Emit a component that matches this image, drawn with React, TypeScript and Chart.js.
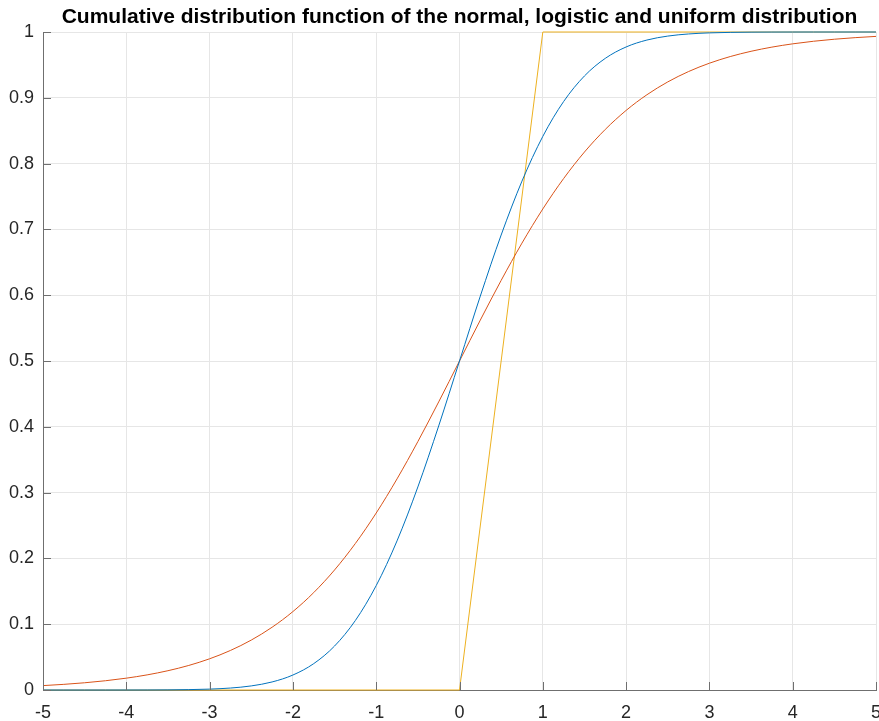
import React, { useEffect, useRef } from "react";
import { Chart, registerables } from "chart.js";

Chart.register(...registerables);

const TITLE = "Cumulative distribution function of the normal, logistic and uniform distribution";

const xValues = [
  -5, -4.75, -4.5, -4.25, -4, -3.75, -3.5, -3.25, -3, -2.75, -2.5, -2.25, -2, -1.75, -1.5, -1.25, -1, -0.75, -0.5, -0.25,
  0, 0.25, 0.5, 0.75, 1, 1.25, 1.5, 1.75, 2, 2.25, 2.5, 2.75, 3, 3.25, 3.5, 3.75, 4, 4.25, 4.5, 4.75, 5,
];

const normalCdf = [
  0.0000003, 0.000001, 0.0000034, 0.0000107, 0.0000317, 0.0000884, 0.000233, 0.000577, 0.00135, 0.00298, 0.00621,
  0.01222, 0.02275, 0.04006, 0.06681, 0.10565, 0.15866, 0.22663, 0.30854, 0.40129, 0.5, 0.59871, 0.69146, 0.77337,
  0.84134, 0.89435, 0.93319, 0.95994, 0.97725, 0.98778, 0.99379, 0.99702, 0.99865, 0.999423, 0.999767, 0.999912,
  0.999968, 0.999989, 0.999997, 0.999999, 1.0,
];

const logisticCdf = [
  0.00669, 0.00858, 0.01099, 0.01406, 0.01799, 0.02298, 0.02931, 0.03732, 0.04743, 0.06008, 0.07586, 0.09535, 0.1192,
  0.14805, 0.18243, 0.2227, 0.26894, 0.32082, 0.37754, 0.43782, 0.5, 0.56218, 0.62246, 0.67918, 0.73106, 0.7773,
  0.81757, 0.85195, 0.8808, 0.90465, 0.92414, 0.93992, 0.95257, 0.96268, 0.97069, 0.97702, 0.98201, 0.98594, 0.98901,
  0.99142, 0.99331,
];

const uniformX = [-5, 0, 1, 5];
const uniformCdf = [0, 0, 1, 1];

const xTicks = [-5, -4, -3, -2, -1, 0, 1, 2, 3, 4, 5];
const yTicks = [0, 0.1, 0.2, 0.3, 0.4, 0.5, 0.6, 0.7, 0.8, 0.9, 1];

const AXIS_COLOR = "#6f6f6f";
const TEXT_COLOR = "#262626";
const FONT = "'Liberation Sans', Arial, Helvetica, sans-serif";

const titlePlugin = {
  id: "octaveTitle",
  afterDraw(chart: any) {
    const { ctx, chartArea } = chart;
    ctx.save();
    ctx.font = `bold 21px ${FONT}`;
    ctx.fillStyle = "#000";
    ctx.textAlign = "center";
    ctx.textBaseline = "alphabetic";
    ctx.fillText(TITLE, (chartArea.left + chartArea.right) / 2, 23);
    ctx.restore();
  },
};

const tickPlugin = {
  id: "inwardTicks",
  afterDatasetsDraw(chart: any) {
    const { ctx, chartArea, scales } = chart;
    const len = 8;
    ctx.save();
    ctx.strokeStyle = AXIS_COLOR;
    ctx.lineWidth = 1;
    ctx.beginPath();
    xTicks.forEach((v) => {
      const px = Math.round(scales.x.getPixelForValue(v)) + 0.5;
      ctx.moveTo(px, chartArea.bottom);
      ctx.lineTo(px, chartArea.bottom - len);
    });
    yTicks.forEach((v) => {
      const py = Math.round(scales.y.getPixelForValue(v)) + 0.5;
      ctx.moveTo(chartArea.left, py);
      ctx.lineTo(chartArea.left + len, py);
    });
    ctx.stroke();
    ctx.restore();
  },
};

export default function App() {
  const ref = useRef<HTMLCanvasElement | null>(null);

  useEffect(() => {
    if (!ref.current) return;
    const toPts = (xs: number[], ys: number[]) => xs.map((x, i) => ({ x, y: ys[i] }));
    const chart = new Chart(ref.current, {
      type: "scatter",
      data: {
        datasets: [
          {
            label: "normal",
            data: toPts(xValues, normalCdf),
            showLine: true,
            borderColor: "#0072BD",
            borderWidth: 1,
            pointRadius: 0,
            cubicInterpolationMode: "monotone",
            clip: false,
          },
          {
            label: "logistic",
            data: toPts(xValues, logisticCdf),
            showLine: true,
            borderColor: "#D95319",
            borderWidth: 1,
            pointRadius: 0,
            cubicInterpolationMode: "monotone",
            clip: false,
          },
          {
            label: "uniform",
            data: toPts(uniformX, uniformCdf),
            showLine: true,
            borderColor: "#EDB120",
            borderWidth: 1,
            pointRadius: 0,
            tension: 0,
            clip: false,
          },
        ],
      },
      plugins: [tickPlugin, titlePlugin],
      options: {
        animation: false,
        responsive: false,
        maintainAspectRatio: false,
        layout: { padding: { top: 32, right: 3, left: 0, bottom: 0 } },
        plugins: {
          legend: { display: false },
          title: { display: false },
          tooltip: { enabled: false },
        },
        scales: {
          x: {
            type: "linear",
            min: -5,
            max: 5,
            afterBuildTicks: (scale: any) => {
              scale.ticks = xTicks.map((v) => ({ value: v }));
            },
            afterFit: (scale: any) => {
              scale.height = 31;
              scale.paddingLeft = 0;
              scale.paddingRight = 0;
            },
            ticks: {
              autoSkip: false,
              maxRotation: 0,
              padding: 12,
              color: TEXT_COLOR,
              font: { family: FONT, size: 18 },
              callback: (v: any) => String(v),
            },
            grid: { color: "#e6e6e6", drawTicks: false, lineWidth: 1 },
            border: { display: true, color: AXIS_COLOR, width: 1 },
          },
          y: {
            type: "linear",
            min: 0,
            max: 1,
            afterBuildTicks: (scale: any) => {
              scale.ticks = yTicks.map((v) => ({ value: v }));
            },
            afterFit: (scale: any) => {
              scale.width = 43;
              scale.paddingTop = 0;
              scale.paddingBottom = 0;
            },
            ticks: {
              autoSkip: false,
              padding: 9,
              color: TEXT_COLOR,
              font: { family: FONT, size: 18 },
              callback: (v: any) => String(Number(Number(v).toFixed(1))),
            },
            grid: { color: "#e6e6e6", drawTicks: false, lineWidth: 1 },
            border: { display: true, color: AXIS_COLOR, width: 1 },
          },
        },
      },
    } as any);
    return () => chart.destroy();
  }, []);

  return (
    <div style={{ position: "absolute", left: 0, top: 0, width: 879, height: 721 }}>
      <canvas ref={ref} width={879} height={721} style={{ display: "block", width: 879, height: 721 }} />
    </div>
  );
}
